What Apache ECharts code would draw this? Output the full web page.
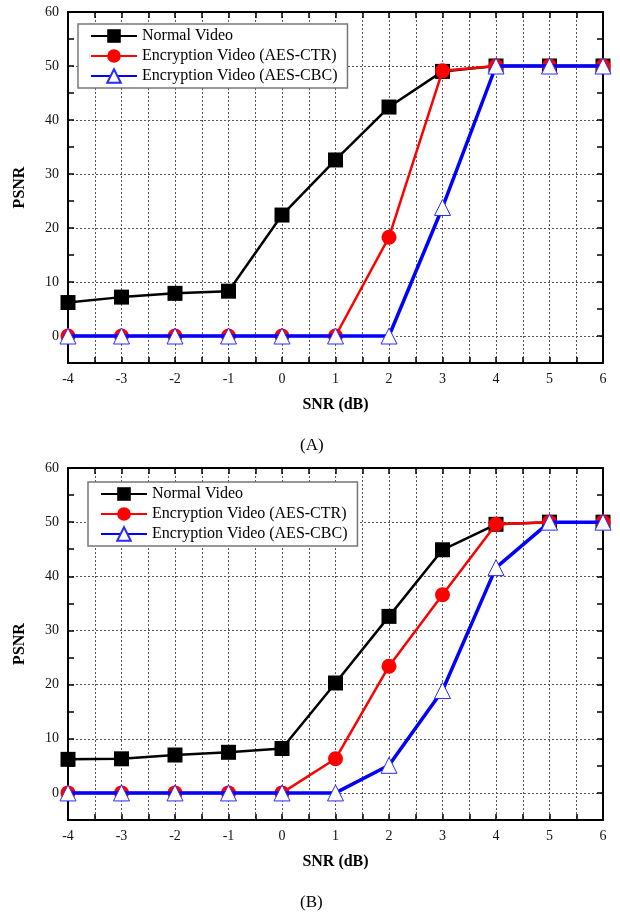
<!DOCTYPE html>
<html>
<head>
<meta charset="utf-8">
<script src="https://cdn.jsdelivr.net/npm/echarts@6/dist/echarts.min.js"></script>
<style>
  html, body { margin: 0; padding: 0; background: #fff; }
  #chart { width: 620px; height: 917px; }
</style>
</head>
<body>
<div id="chart"></div>
<script>
// SNR values (dB) shared by both panels
const snr = [-4, -3, -2, -1, 0, 1, 2, 3, 4, 5, 6]

// panel (A)
const normalA = [6.2, 7.2, 7.9, 8.3, 22.4, 32.6, 42.4, 49.0, 50, 50, 50]
const ctrA = [0, 0, 0, 0, 0, 0, 18.3, 49.1, 50, 50, 50]
const cbcA = [0, 0, 0, 0, 0, 0, 0, 23.8, 50, 50, 50]

// panel (B)
const normalB = [6.2, 6.3, 7.0, 7.5, 8.2, 20.3, 32.6, 44.9, 49.6, 50, 50]
const ctrB = [0, 0, 0, 0, 0, 6.3, 23.4, 36.6, 49.6, 50, 50]
const cbcB = [0, 0, 0, 0, 0, 0, 5.1, 18.9, 41.6, 50, 50]

const seriesNames = ['Normal Video', 'Encryption Video (AES-CTR)', 'Encryption Video (AES-CBC)']
const panelLabels = ['(A)', '(B)']

const font = '"Liberation Serif", "DejaVu Serif", serif'
const dash = { color: '#555', width: 1, type: [2, 2] }
const frame = { show: true, onZero: false, lineStyle: { color: '#000', width: 2 } }
const tick = { inside: true, length: 6, lineStyle: { color: '#000', width: 1.5 } }

function pairs(ys) {
    return snr.map((x, i) => [x, ys[i]])
}

function xAxes(g) {
    return [
        {
            gridIndex: g, type: 'value', min: -4, max: 6, interval: 1, position: 'bottom',
            name: 'SNR (dB)', nameLocation: 'middle', nameGap: 34,
            nameTextStyle: { fontFamily: font, fontWeight: 'bold', fontSize: 16, color: '#000' },
            axisLine: frame,
            axisTick: tick,
            minorTick: { show: true, splitNumber: 2, length: 6, lineStyle: { color: '#000', width: 1.5 } },
            axisLabel: { fontFamily: font, fontSize: 14, color: '#111', margin: 9 },
            splitLine: { show: true, lineStyle: dash },
            minorSplitLine: { show: true, lineStyle: dash }
        },
        {
            gridIndex: g, type: 'value', min: -4, max: 6, interval: 1, position: 'top',
            axisLine: frame,
            axisTick: tick,
            minorTick: { show: true, splitNumber: 2, length: 6, lineStyle: { color: '#000', width: 1.5 } },
            axisLabel: { show: false },
            splitLine: { show: false }
        }
    ]
}

function yAxes(g) {
    return [
        {
            gridIndex: g, type: 'value', min: -5, max: 60, interval: 5, position: 'left',
            name: 'PSNR', nameLocation: 'middle', nameGap: 40, nameRotate: 90,
            nameTextStyle: { fontFamily: font, fontWeight: 'bold', fontSize: 16, color: '#000' },
            axisLine: frame,
            axisTick: tick,
            axisLabel: {
                fontFamily: font, fontSize: 14, color: '#111', margin: 9,
                formatter: v => (v % 10 === 0 ? String(v) : '')
            },
            splitLine: { show: false }
        },
        {
            gridIndex: g, type: 'value', min: -5, max: 60, interval: 5, position: 'right',
            axisLine: frame,
            axisTick: tick,
            axisLabel: { show: false },
            splitLine: { show: false }
        },
        {
            // only the dashed horizontal grid lines (auto step of 10)
            gridIndex: g, type: 'value', min: -5, max: 60, position: 'left',
            axisLine: { show: false, onZero: false }, axisTick: { show: false }, axisLabel: { show: false },
            splitLine: { show: true, lineStyle: dash }
        }
    ]
}

function panelSeries(g, ys) {
    const styles = [
        { color: '#000', symbol: 'rect', size: 15, width: 2.5, fill: '#000', border: '#000', bw: 0 },
        { color: '#ff0000', symbol: 'circle', size: 15, width: 2.5, fill: '#ff0000', border: '#ff0000', bw: 0 },
        { color: '#0000ff', symbol: 'triangle', size: 16, width: 3.5, fill: '#fff', border: '#2a2aff', bw: 1 }
    ]
    return ys.map((data, i) => ({
        name: seriesNames[i],
        type: 'line',
        xAxisIndex: g * 2,
        yAxisIndex: g * 3,
        data: pairs(data),
        symbol: styles[i].symbol,
        symbolSize: styles[i].size,
        showAllSymbol: true,
        lineStyle: { color: styles[i].color, width: styles[i].width },
        itemStyle: { color: styles[i].fill, borderColor: styles[i].border, borderWidth: styles[i].bw },
        z: 3 + i,
        animation: false
    }))
}

function legendFor(left, top) {
    return {
        data: seriesNames,
        orient: 'vertical',
        left: left,
        top: top,
        itemWidth: 46,
        itemHeight: 17,
        itemGap: 4,
        padding: [4, 10, 4, 12],
        backgroundColor: '#fff',
        borderColor: '#777',
        borderWidth: 1.5,
        textStyle: { fontFamily: font, fontSize: 16, color: '#000' },
        selectedMode: false
    }
}

const chart = echarts.init(document.getElementById('chart'))
chart.setOption({
    animation: false,
    grid: [
        { left: 68, top: 12, width: 535, height: 351 },
        { left: 68, top: 468, width: 535, height: 352 }
    ],
    xAxis: [...xAxes(0), ...xAxes(1)],
    yAxis: [...yAxes(0), ...yAxes(1)],
    legend: [legendFor(78, 24), legendFor(88, 482)],
    series: [
        ...panelSeries(0, [normalA, ctrA, cbcA]),
        ...panelSeries(1, [normalB, ctrB, cbcB])
    ],
    graphic: [
        { type: 'text', left: 300, top: 437, style: { text: panelLabels[0], font: '17px ' + font, fill: '#000' } },
        { type: 'text', left: 300, top: 894, style: { text: panelLabels[1], font: '17px ' + font, fill: '#000' } }
    ]
})
</script>
</body>
</html>
